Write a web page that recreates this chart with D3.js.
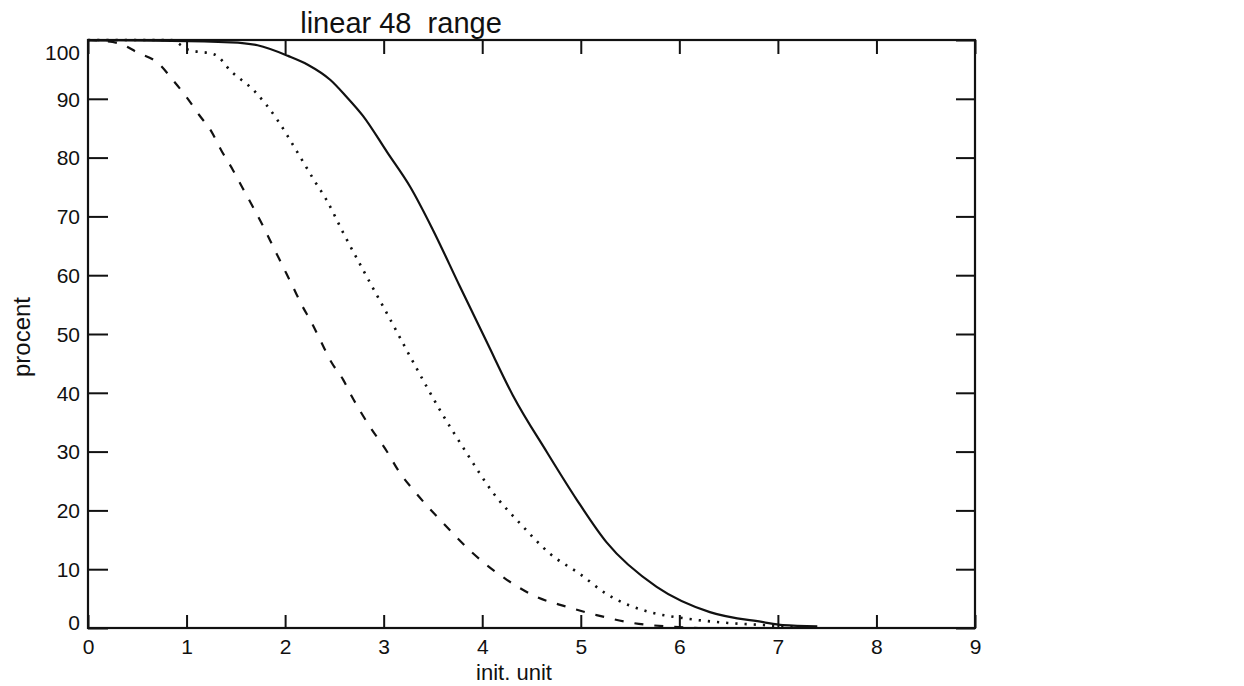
<!DOCTYPE html>
<html>
<head>
<meta charset="utf-8">
<script src="https://cdn.jsdelivr.net/npm/d3@7"></script>
<style>
  body { margin: 0; background: #fff; }
  svg text { font-family: "Liberation Sans", Arial, Helvetica, sans-serif; fill: #111; }
</style>
</head>
<body>
<div id="chart"></div>
<script>
// tick values
const xTicks = [0, 1, 2, 3, 4, 5, 6, 7, 8, 9];
const yTicks = [0, 10, 20, 30, 40, 50, 60, 70, 80, 90, 100];

// solid curve
const solidX = [0, 1.45, 1.72, 2.03, 2.23, 2.46, 2.62, 2.79, 3.04, 3.27, 3.5, 3.77, 4.05, 4.31, 4.66, 4.96, 5.26, 5.77, 6.31, 6.85, 7.05, 7.4];
const solidY = [100, 99.6, 99.1, 97.3, 95.8, 93.2, 90.4, 87.1, 80.8, 75, 67.7, 58.2, 48.5, 39.6, 29.8, 21.8, 14.6, 7.0, 2.7, 1.0, 0.5, 0.3];

// dotted curve
const dottedX = [0, 0.84, 1.01, 1.29, 1.45, 1.69, 1.93, 2.1, 2.3, 2.42, 2.59, 2.83, 3.03, 3.3, 3.57, 3.84, 4.11, 4.4, 4.69, 4.99, 5.26, 5.7, 6.03, 6.5, 6.85, 7.2];
const dottedY = [100, 100, 98.4, 97.5, 94.7, 91.3, 86.2, 81.6, 76, 72.8, 67.2, 59.7, 53.6, 45.2, 37.1, 29.8, 23, 17.5, 12.6, 9.2, 5.8, 2.7, 1.7, 0.85, 0.5, 0.1];

// dashed curve
const dashedX = [0, 0.3, 0.51, 0.71, 0.86, 0.99, 1.13, 1.25, 1.35, 1.47, 1.57, 1.69, 1.79, 1.88, 1.98, 2.08, 2.17, 2.27, 2.37, 2.47, 2.59, 2.68, 2.85, 3.03, 3.16, 3.3, 3.6, 3.9, 4.25, 4.55, 4.86, 5.16, 5.53, 5.93, 6.2];
const dashedY = [100, 99.5, 97.8, 96.1, 93.2, 90.5, 87.2, 84.5, 81.3, 77.9, 74.8, 71.1, 67.9, 64.8, 61.4, 58, 54.9, 51.9, 48.5, 45.2, 42.2, 39.3, 34.5, 30.1, 26.5, 23.5, 17.9, 12.8, 8.2, 5.3, 3.6, 2.2, 0.85, 0.2, 0];

const W = 1244, H = 686;
const margin = { top: 40, right: 269, bottom: 58, left: 88 };
const width = W - margin.left - margin.right;
const height = H - margin.top - margin.bottom;

const svg = d3.select("#chart").append("svg")
    .attr("width", W)
    .attr("height", H);

const g = svg.append("g")
    .attr("transform", `translate(${margin.left},${margin.top})`);

const x = d3.scaleLinear().domain([0, 9]).range([0, width]);
const y = d3.scaleLinear().domain([0, 100]).range([height, 0]);

// axes (ticks point inward, like the original)
const xAxis = g.append("g")
    .attr("transform", `translate(0,${height})`)
    .call(d3.axisBottom(x).tickValues(xTicks).tickSize(-13).tickPadding(11).tickFormat(d3.format("d")));
xAxis.selectAll("text").style("font-size", "21px");

const yAxis = g.append("g")
    .call(d3.axisLeft(y).tickValues(yTicks).tickSize(-20).tickPadding(8).tickFormat(d3.format("d")));
yAxis.selectAll("text")
    .style("font-size", "21px")
    .attr("dy", d => d === 100 ? "0.95em" : (d === 0 ? "0.05em" : "0.35em"));

g.append("g")
    .call(d3.axisTop(x).tickValues(xTicks).tickSize(-14).tickFormat(""));
g.append("g")
    .attr("transform", `translate(${width},0)`)
    .call(d3.axisRight(y).tickValues(yTicks).tickSize(-19).tickFormat(""));

g.selectAll(".domain").remove();
g.selectAll(".tick line").attr("stroke", "#111").attr("stroke-width", 2);

// frame
g.append("rect")
    .attr("width", width)
    .attr("height", height)
    .attr("fill", "none")
    .attr("stroke", "#111")
    .attr("stroke-width", 2.2);

// curves
const line = d3.line()
    .x(d => x(d[0]))
    .y(d => y(d[1]))
    .curve(d3.curveMonotoneX);

const series = [
    { xs: solidX, ys: solidY, dash: null, w: 2.2 },
    { xs: dottedX, ys: dottedY, dash: "2.2,7", w: 2.6 },
    { xs: dashedX, ys: dashedY, dash: "9,11", w: 2.2 }
];

series.forEach(s => {
    g.append("path")
        .datum(s.xs.map((v, i) => [v, s.ys[i]]))
        .attr("fill", "none")
        .attr("stroke", "#111")
        .attr("stroke-width", s.w)
        .attr("stroke-dasharray", s.dash)
        .attr("d", line);
});

// labels
svg.append("text")
    .attr("x", 401)
    .attr("y", 33)
    .attr("text-anchor", "middle")
    .style("font-size", "29px")
    .style("white-space", "pre")
    .attr("xml:space", "preserve")
    .text("linear 48  range");

svg.append("text")
    .attr("x", 514)
    .attr("y", 680)
    .attr("text-anchor", "middle")
    .style("font-size", "22px")
    .text("init. unit");

svg.append("text")
    .attr("transform", "translate(30,337) rotate(-90)")
    .attr("text-anchor", "middle")
    .style("font-size", "24px")
    .text("procent");
</script>
</body>
</html>
